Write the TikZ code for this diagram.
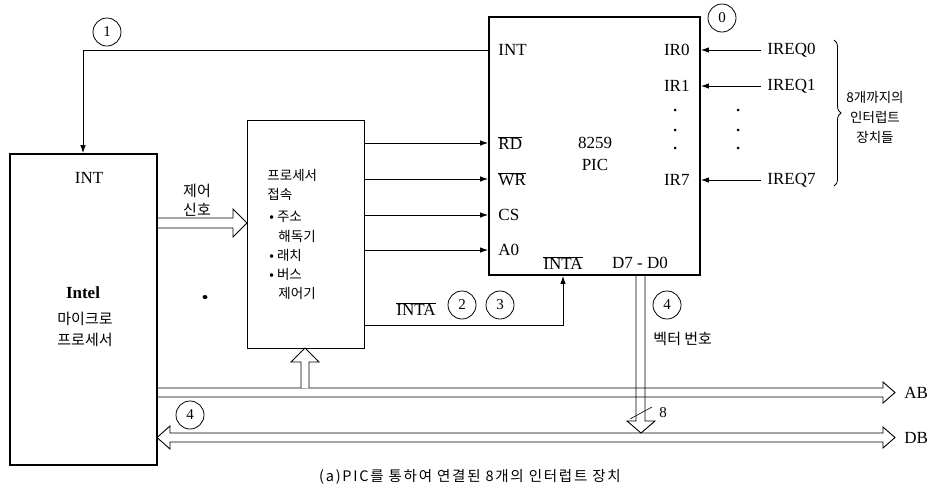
\documentclass[tikz,border=0pt]{standalone}
\usepackage{fontspec}
\setmainfont{Liberation Serif}
\newfontfamily\kr{Noto Sans CJK KR}
\newfontfamily\krcap{Noto Sans CJK KR}[LetterSpace=12]
\usetikzlibrary{arrows.meta,decorations.pathreplacing}
\begin{document}
\begin{tikzpicture}[x=1pt,y=-1pt, line width=0.9pt,
  lbl/.style={font=\fontsize{17}{19}\selectfont, inner sep=0pt},
  krs/.style={font={\kr\fontsize{13.5}{15}\selectfont}, inner sep=0pt},
  krm/.style={font={\kr\fontsize{15}{17}\selectfont}, inner sep=0pt},
  num/.style={circle, draw, line width=0.8pt, minimum size=28pt, inner sep=0pt, font=\fontsize{15}{15}\selectfont},
  sig/.style={-{Latex[length=8pt,width=5.5pt]}},
  bus/.style={line width=0.9pt, line join=miter},
  thickbox/.style={draw, line width=1.8pt, inner sep=0pt},
  thinbox/.style={draw, line width=1pt, inner sep=0pt}
]
\useasboundingbox (0,0) rectangle (933,491);

% boxes
\node[thickbox, minimum width=147pt, minimum height=311pt] (cpu) at (83.5,309.5) {};
\node[thinbox, minimum width=117pt, minimum height=228pt] (proc) at (305.5,234) {};
\node[thickbox, minimum width=211pt, minimum height=258pt] (pic) at (594.5,146) {};

% CPU texts
\node[lbl] (cpuint) at (89,178) {INT};
\node[lbl, font=\bfseries\fontsize{17}{19}\selectfont] (intel) at (83,293) {Intel};
\node[krm] (micro) at (85,319) {마이크로};
\node[krm] (mproc) at (85,340) {프로세서};

% processor interface texts
\node[krs, anchor=west] (p1) at (267,175) {프로세서};
\node[krs, anchor=west] (p2) at (267,194) {접속};
\node[krs, anchor=west] (p3) at (269,217) {\textbullet\ 주소};
\node[krs, anchor=west] (p4) at (278,236) {해독기};
\node[krs, anchor=west] (p5) at (269,255) {\textbullet\ 래치};
\node[krs, anchor=west] (p6) at (269,274) {\textbullet\ 버스};
\node[krs, anchor=west] (p7) at (278,293) {제어기};

% PIC texts
\node[lbl, anchor=west] (pint) at (498,50) {INT};
\node[lbl, anchor=west] (prd) at (498,143) {$\overline{\mbox{RD}}$};
\node[lbl, anchor=west] (pwr) at (498,179) {$\overline{\mbox{WR}}$};
\node[lbl, anchor=west] (pcs) at (498,215) {CS};
\node[lbl, anchor=west] (pa0) at (498,250) {A0};
\node[lbl] (p8259) at (595,143) {8259};
\node[lbl] (ppic) at (595,165) {PIC};
\node[lbl, anchor=east] (ir0) at (690,50) {IR0};
\node[lbl, anchor=east] (ir1) at (690,86) {IR1};
\node[lbl, anchor=east] (ir7) at (690,180) {IR7};
\node[lbl] (pinta) at (563,263) {$\overline{\mbox{INTA}}$};
\node[lbl] (pd) at (640,263) {D7 - D0};
\foreach \yy in {110,130,148}{\fill (675,\yy) circle (1.5pt); \fill (738,\yy) circle (1.5pt);}

% IREQ
\node[lbl, anchor=west, inner xsep=6pt] (irq0) at (761,50) {IREQ0};
\node[lbl, anchor=west, inner xsep=6pt] (irq1) at (761,86) {IREQ1};
\node[lbl, anchor=west, inner xsep=6pt] (irq7) at (761,180) {IREQ7};
\draw[sig] (irq0.west) -- (pic.east |- irq0.west);
\draw[sig] (irq1.west) -- (pic.east |- irq1.west);
\draw[sig] (irq7.west) -- (pic.east |- irq7.west);
\draw[line width=0.8pt, decorate, decoration={brace, amplitude=7pt}] (834,40) -- (834,186);
\node[align=center, inner sep=0pt, font={\kr\fontsize{13.5}{20}\selectfont}] (dev) at (875,117) {8개까지의\\인터럽트\\장치들};

% circles
\node[num] (c1) at (107,32) {1};
\node[num] (c0) at (722,18) {0};
\node[num] (c2) at (462,305) {2};
\node[num] (c3) at (500,305) {3};
\node[num] (c4a) at (667,305) {4};
\node[num] (c4b) at (190,415) {4};

% INT line
\coordinate (xint) at (83,0);
\draw[sig] (pint.west -| pic.west) -| (cpu.north -| xint);

% signal lines
\foreach \n in {prd,pwr,pcs,pa0}{\draw[sig] (proc.east |- \n.west) -- (pic.west |- \n.west);}

% INTA
\coordinate (yinta) at (0,325);
\node[lbl] (intalbl) at (416,309) {$\overline{\mbox{INTA}}$};
\draw[sig] (proc.east |- yinta) -| (pic.south -| pinta);

% control signal
\node[krm] (ctl1) at (197,191) {제어};
\node[krm] (ctl2) at (197,210) {신호};
\draw[bus] (157,218) -- (233,218) -- (233,209) -- (247,223) -- (233,237) -- (233,228) -- (157,228);

% AB bus
\draw[bus] (157,388) -- (883,388) -- (883,382) -- (895,392.5) -- (883,403) -- (883,397) -- (157,397);
\node[lbl, anchor=west] (ab) at (904,393) {AB};
% up branch into processor interface
\draw[bus, fill=white] (301,388) -- (301,362) -- (291,362) -- (305,348) -- (319,362) -- (309,362) -- (309,388);

% DB bus
\draw[bus] (157,437.5) -- (170,426) -- (170,433) -- (883,433) -- (883,427) -- (895,437.5) -- (883,448) -- (883,442) -- (170,442) -- (170,449) -- cycle;
\node[lbl, anchor=west] (db) at (904,438) {DB};

% D7-D0 down bus
\draw[bus] (636,275) -- (636,421) -- (627,421) -- (641,433) -- (655,421) -- (645,421) -- (645,275);
\draw[line width=0.6pt] (630,419) -- (652,407);
\node[lbl, font=\fontsize{15}{15}\selectfont] (eight) at (663,413) {8};
\node[krm, anchor=west] (vec) at (653,339) {벡터 번호};

% stray mark
\fill (205,297) ellipse (2.5pt and 2pt);

% caption
\node[font={\krcap\fontsize{14.5}{16}\selectfont}, inner sep=0pt] (cap) at (470,477) {(a)PIC를 통하여 연결된 8개의 인터럽트 장치};
\end{tikzpicture}
\end{document}
